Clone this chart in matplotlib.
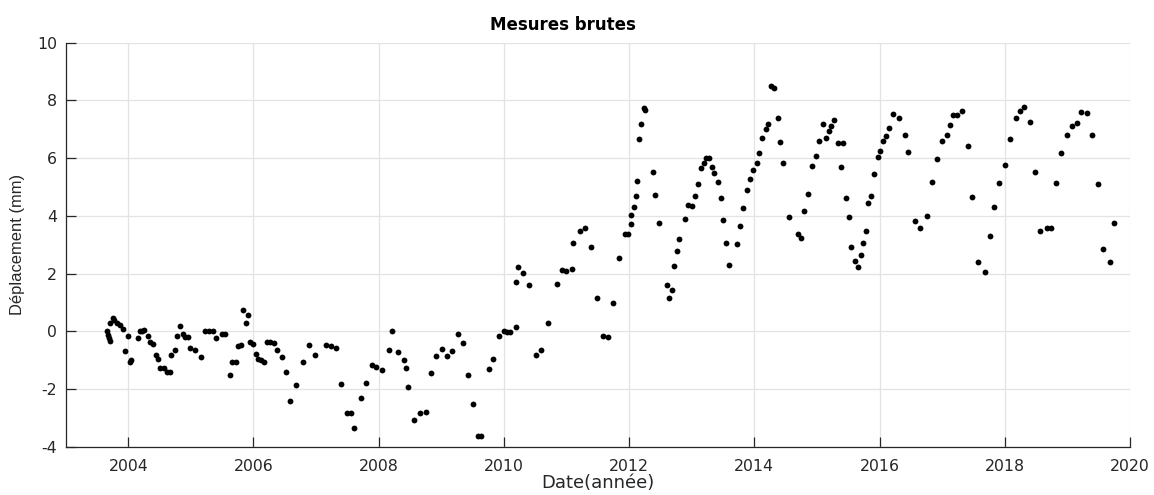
import numpy as np
import matplotlib.pyplot as plt

plt.rcParams['font.family'] = ['DejaVu Sans']
plt.rcParams['axes.unicode_minus'] = False

years = [
    2003.66, 2003.67, 2003.69, 2003.71, 2003.71, 2003.75, 2003.78, 2003.82, 2003.87, 2003.91,
    2003.95, 2003.99, 2004.03, 2004.05, 2004.16, 2004.19, 2004.22, 2004.25, 2004.31, 2004.34,
    2004.39, 2004.44, 2004.47, 2004.51, 2004.57, 2004.62, 2004.66, 2004.69, 2004.75, 2004.78,
    2004.82, 2004.87, 2004.91, 2004.96, 2004.99, 2005.07, 2005.16, 2005.23, 2005.29, 2005.36,
    2005.40, 2005.50, 2005.55, 2005.63, 2005.66, 2005.72, 2005.76, 2005.80, 2005.83, 2005.88,
    2005.92, 2005.95, 2006.00, 2006.04, 2006.07, 2006.12, 2006.17, 2006.21, 2006.27, 2006.32,
    2006.37, 2006.45, 2006.52, 2006.59, 2006.68, 2006.79, 2006.89, 2006.99, 2007.16, 2007.24,
    2007.32, 2007.40, 2007.49, 2007.55, 2007.60, 2007.72, 2007.80, 2007.89, 2007.95, 2008.05,
    2008.16, 2008.22, 2008.31, 2008.41, 2008.43, 2008.47, 2008.57, 2008.66, 2008.75, 2008.84,
    2008.92, 2009.01, 2009.09, 2009.17, 2009.26, 2009.34, 2009.42, 2009.50, 2009.58, 2009.64,
    2009.76, 2009.83, 2009.92, 2010.00, 2010.05, 2010.10, 2010.19, 2010.19, 2010.23, 2010.31,
    2010.40, 2010.51, 2010.60, 2010.71, 2010.84, 2010.93, 2010.99, 2011.09, 2011.11, 2011.21,
    2011.29, 2011.39, 2011.48, 2011.59, 2011.67, 2011.75, 2011.84, 2011.93, 2011.98, 2012.03,
    2012.03, 2012.08, 2012.11, 2012.13, 2012.16, 2012.19, 2012.23, 2012.26, 2012.38, 2012.42,
    2012.47, 2012.60, 2012.64, 2012.68, 2012.71, 2012.76, 2012.80, 2012.89, 2012.94, 2013.00,
    2013.06, 2013.10, 2013.14, 2013.19, 2013.23, 2013.28, 2013.33, 2013.36, 2013.42, 2013.46,
    2013.50, 2013.55, 2013.60, 2013.72, 2013.77, 2013.82, 2013.88, 2013.93, 2013.98, 2014.04,
    2014.08, 2014.13, 2014.19, 2014.22, 2014.27, 2014.31, 2014.37, 2014.41, 2014.46, 2014.56,
    2014.70, 2014.74, 2014.80, 2014.85, 2014.92, 2014.98, 2015.04, 2015.10, 2015.15, 2015.19,
    2015.23, 2015.28, 2015.34, 2015.38, 2015.42, 2015.46, 2015.51, 2015.54, 2015.61, 2015.66,
    2015.71, 2015.74, 2015.78, 2015.82, 2015.86, 2015.91, 2015.97, 2016.01, 2016.05, 2016.10,
    2016.15, 2016.22, 2016.31, 2016.40, 2016.45, 2016.57, 2016.65, 2016.75, 2016.83, 2016.91,
    2016.99, 2017.07, 2017.12, 2017.17, 2017.24, 2017.32, 2017.41, 2017.48, 2017.57, 2017.68,
    2017.77, 2017.83, 2017.91, 2018.00, 2018.08, 2018.18, 2018.24, 2018.31, 2018.40, 2018.48,
    2018.56, 2018.67, 2018.74, 2018.82, 2018.90, 2018.99, 2019.07, 2019.15, 2019.22, 2019.32,
    2019.40, 2019.49, 2019.57, 2019.68, 2019.74,
]
disp_mm = [
    0.00, -0.12, -0.24, -0.33, 0.30, 0.47, 0.41, 0.30, 0.23, 0.10,
    -0.67, -0.17, -1.07, -0.98, -0.23, 0.00, 0.03, 0.06, -0.17, -0.38,
    -0.42, -0.82, -0.94, -1.27, -1.28, -1.39, -1.42, -0.80, -0.65, -0.15,
    0.20, -0.07, -0.20, -0.18, -0.58, -0.65, -0.90, 0.03, 0.00, 0.03,
    -0.21, -0.08, -0.09, -1.50, -1.04, -1.04, -0.50, -0.48, 0.74, 0.30,
    0.57, -0.35, -0.42, -0.78, -0.95, -0.98, -1.05, -0.36, -0.36, -0.40,
    -0.65, -0.88, -1.40, -2.41, -1.86, -1.06, -0.48, -0.83, -0.48, -0.51,
    -0.57, -1.83, -2.83, -2.83, -3.35, -2.31, -1.79, -1.16, -1.24, -1.32,
    -0.64, 0.01, -0.72, -0.98, -1.25, -1.92, -3.05, -2.83, -2.79, -1.45,
    -0.85, -0.60, -0.86, -0.66, -0.09, -0.40, -1.52, -2.51, -3.63, -3.61,
    -1.30, -0.95, -0.14, 0.03, -0.03, -0.03, 0.15, 1.72, 2.25, 2.03,
    1.62, -0.80, -0.65, 0.29, 1.65, 2.13, 2.08, 2.18, 3.06, 3.47,
    3.57, 2.94, 1.16, -0.16, -0.19, 1.00, 2.56, 3.37, 3.37, 3.72,
    4.04, 4.32, 4.68, 5.22, 6.67, 7.19, 7.73, 7.68, 5.53, 4.73,
    3.74, 1.60, 1.16, 1.42, 2.28, 2.79, 3.19, 3.89, 4.39, 4.33,
    4.70, 5.12, 5.65, 5.85, 6.00, 6.00, 5.71, 5.50, 5.17, 4.61,
    3.86, 3.05, 2.31, 3.02, 3.65, 4.26, 4.91, 5.29, 5.59, 5.82,
    6.17, 6.71, 7.00, 7.18, 8.49, 8.42, 7.41, 6.55, 5.83, 3.98,
    3.39, 3.24, 4.16, 4.76, 5.72, 6.07, 6.60, 7.17, 6.71, 6.94,
    7.13, 7.31, 6.52, 5.71, 6.54, 4.61, 3.98, 2.93, 2.44, 2.22,
    2.65, 3.07, 3.47, 4.44, 4.68, 5.46, 6.05, 6.26, 6.60, 6.77,
    7.04, 7.54, 7.40, 6.82, 6.23, 3.83, 3.57, 3.99, 5.17, 5.97,
    6.60, 6.82, 7.14, 7.50, 7.50, 7.63, 6.43, 4.66, 2.39, 2.05,
    3.31, 4.32, 5.14, 5.78, 6.68, 7.38, 7.65, 7.77, 7.25, 5.53,
    3.48, 3.59, 3.59, 5.14, 6.18, 6.82, 7.13, 7.23, 7.60, 7.57,
    6.82, 5.12, 2.85, 2.39, 3.74,
]

xticks = [2004, 2006, 2008, 2010, 2012, 2014, 2016, 2018, 2020]
yticks = [-4, -2, 0, 2, 4, 6, 8, 10]

fig = plt.figure(figsize=(11.54, 4.95), dpi=100)
ax = fig.add_axes([0.0569, 0.097, 0.9223, 0.8167])

ax.plot(years, disp_mm, 'o', color='k', ms=4.2, mew=0)

ax.set_xlim(2003, 2020)
ax.set_ylim(-4, 10)
ax.set_xticks(xticks)
ax.set_yticks(yticks)
ax.grid(True, color='#e3e3e3', lw=0.9)
ax.set_axisbelow(True)
for s in ['top', 'right']:
    ax.spines[s].set_visible(False)
for s in ['left', 'bottom']:
    ax.spines[s].set_color('#262626')
    ax.spines[s].set_linewidth(0.9)
ax.tick_params(direction='in', length=7, width=0.9, colors='#262626',
               labelsize=11.3)
ax.tick_params(axis='x', pad=9)
ax.tick_params(axis='y', pad=6)

ax.set_xlabel("Date(année)", fontsize=13, color='#262626', labelpad=0)
ax.set_ylabel("Déplacement (mm)", fontsize=11.9, color='#262626',
              family='Liberation Sans', labelpad=9)
# title sits left of the axes centre in the reference
fig.text(0.488, 0.939, "Mesures brutes", fontsize=12, fontweight='bold',
         ha='center', va='baseline')

plt.savefig("out.png", dpi=100)
